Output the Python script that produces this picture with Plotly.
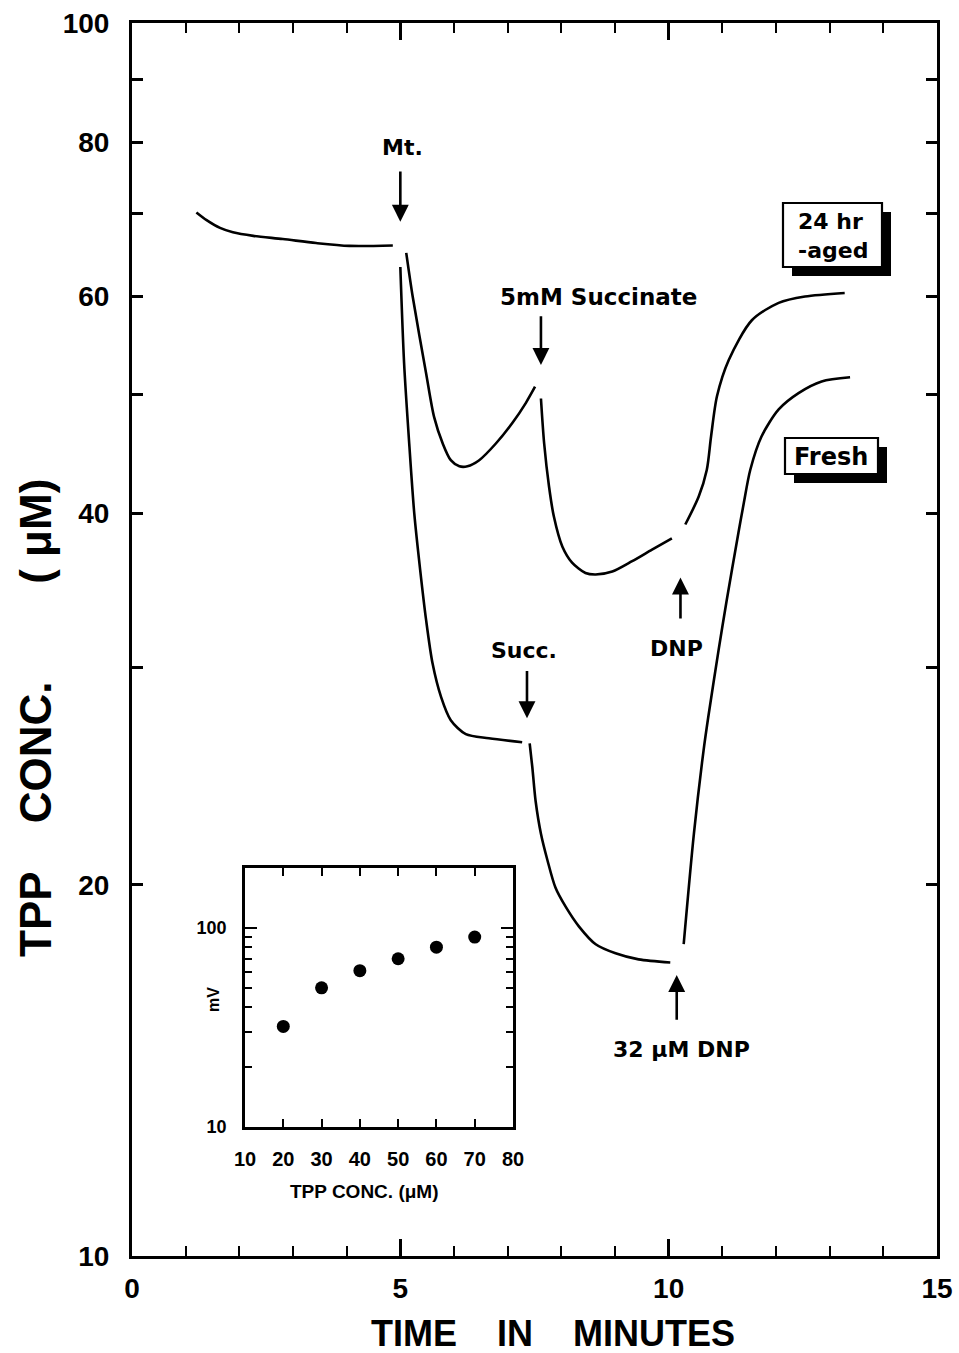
import numpy as np
import plotly.graph_objects as go

W, H = 959, 1353

# ---------------- data ----------------
pre_time = [1.20, 1.39, 1.64, 1.88, 2.26, 2.81, 3.43, 4.05, 4.86]
pre_tpp = [70.2, 69.2, 68.2, 67.65, 67.2, 66.8, 66.3, 65.95, 66.0]

aged_time_1 = [5.11, 5.23, 5.48, 5.63, 5.79, 5.94, 6.10, 6.25, 6.47, 6.78, 7.09, 7.34, 7.51]
aged_tpp_1 = [65.1, 60.0, 52.0, 47.9, 45.6, 44.2, 43.7, 43.7, 44.2, 45.6, 47.4, 49.2, 50.7]
aged_time_2 = [7.62, 7.68, 7.77, 7.86, 8.02, 8.20, 8.45, 8.64, 8.95, 9.32, 9.69, 10.06]
aged_tpp_2 = [49.6, 45.6, 42.1, 39.8, 37.6, 36.5, 35.8, 35.7, 35.9, 36.6, 37.4, 38.2]
aged_time_3 = [10.31, 10.56, 10.71, 10.79, 10.90, 11.12, 11.55, 12.05, 12.54, 13.28]
aged_tpp_3 = [39.2, 41.3, 43.4, 46.2, 49.8, 53.3, 57.4, 59.3, 60.0, 60.4]

fresh_time_1 = [5.00, 5.07, 5.17, 5.26, 5.37, 5.48, 5.60, 5.76, 5.94, 6.22, 6.65, 7.27]
fresh_tpp_1 = [63.4, 53.0, 45.3, 40.0, 36.0, 32.8, 30.25, 28.4, 27.2, 26.5, 26.3, 26.1]
fresh_time_2 = [7.41, 7.46, 7.52, 7.62, 7.74, 7.89, 8.08, 8.33, 8.64, 9.01, 9.44, 10.03]
fresh_tpp_2 = [26.05, 24.9, 23.4, 22.0, 20.95, 19.9, 19.2, 18.5, 17.9, 17.6, 17.4, 17.3]
fresh_time_3 = [10.28, 10.47, 10.65, 10.74, 10.93, 11.08, 11.30, 11.40, 11.52,
                11.73, 12.05, 12.42, 12.85, 13.38]
fresh_tpp_3 = [17.9, 22.0, 25.7, 27.4, 31.0, 34.0, 38.6, 40.8, 43.4,
               46.2, 48.6, 50.1, 51.2, 51.6]

inset_tpp = [20, 30, 40, 50, 60, 70]
inset_mv = [32, 50, 61, 70, 80, 90]

x_ticks = [0, 5, 10, 15]
y_ticks = [10, 20, 40, 60, 80, 100]
y_minor = [30, 50, 70, 90]
inset_x_ticks = [10, 20, 30, 40, 50, 60, 70, 80]
inset_y_ticks = [10, 100]
inset_y_minor = [20, 30, 40, 50, 60, 70, 80, 90]

# ---------------- helpers ----------------
def fx(px):
    return px / W

def fy(py):
    return 1 - py / H

LAB = dict(family="DejaVu Sans", size=22, color="black", weight="bold")
TICKF = dict(family="Liberation Sans", size=28, color="black", weight="bold")

fig = go.Figure()

line_style = dict(color="black", width=2.6, shape="spline", smoothing=0.8)
segments = [
    (pre_time, pre_tpp),
    (aged_time_1, aged_tpp_1), (aged_time_2, aged_tpp_2), (aged_time_3, aged_tpp_3),
    (fresh_time_1, fresh_tpp_1), (fresh_time_2, fresh_tpp_2), (fresh_time_3, fresh_tpp_3),
]
for t, c in segments:
    fig.add_trace(go.Scatter(x=t, y=c, mode="lines", line=line_style,
                             xaxis="x", yaxis="y", showlegend=False, hoverinfo="skip"))

fig.add_trace(go.Scatter(x=inset_tpp, y=inset_mv, mode="markers",
                         marker=dict(color="black", size=13),
                         xaxis="x2", yaxis="y2", showlegend=False, hoverinfo="skip"))

# ---------------- axes ----------------
main_x_dom = [fx(132), fx(937)]
main_y_dom = [fy(1256), fy(23)]
in_x_dom = [fx(245), fx(513)]
in_y_dom = [fy(1127), fy(868)]

fig.update_layout(
    width=W, height=H,
    margin=dict(l=0, r=0, t=0, b=0, pad=0),
    paper_bgcolor="white", plot_bgcolor="white",
    showlegend=False,
    xaxis=dict(domain=main_x_dom, range=[0, 15], tickvals=x_ticks,
               ticks="inside", ticklen=17, tickwidth=2.5, tickcolor="black",
               showline=True, linewidth=3, linecolor="black", mirror="ticks",
               showgrid=False, zeroline=False, tickfont=TICKF,
               ticklabelstandoff=5, anchor="y", automargin=False,
               minor=dict(dtick=1, tick0=0, ticks="inside", ticklen=10,
                          tickwidth=2.2, tickcolor="black", showgrid=False)),
    yaxis=dict(domain=main_y_dom, type="log", range=[1, 2], tickvals=y_ticks,
               ticktext=[str(v) for v in y_ticks],
               ticks="inside", ticklen=11, tickwidth=2.5, tickcolor="black",
               showline=True, linewidth=3, linecolor="black", mirror="ticks",
               showgrid=False, zeroline=False, tickfont=TICKF,
               ticklabelstandoff=14, anchor="x", automargin=False,
               minor=dict(tickvals=y_minor, ticks="inside", ticklen=11,
                          tickwidth=2.5, tickcolor="black", showgrid=False)),
    xaxis2=dict(domain=in_x_dom, range=[10, 80], tickvals=inset_x_ticks,
                ticks="inside", ticklen=8, tickwidth=2, tickcolor="black",
                showline=True, linewidth=2.5, linecolor="black", mirror="ticks",
                showgrid=False, zeroline=False, anchor="y2", automargin=False,
                tickfont=dict(family="Liberation Sans", size=20, color="black", weight="bold"),
                ticklabelstandoff=12),
    yaxis2=dict(domain=in_y_dom, type="log", range=[1, np.log10(200)],
                tickvals=inset_y_ticks, ticktext=["10", "100"],
                ticks="inside", ticklen=12, tickwidth=2, tickcolor="black",
                showline=True, linewidth=2.5, linecolor="black", mirror="ticks",
                showgrid=False, zeroline=False, anchor="x2", automargin=False,
                tickfont=dict(family="Liberation Sans", size=18, color="black", weight="bold"),
                ticklabelstandoff=12,
                minor=dict(tickvals=inset_y_minor, ticks="inside", ticklen=7,
                           tickwidth=2, tickcolor="black", showgrid=False)),
)

L = np.log10
ann = []
# text labels on the main chart (data coords)
for txt, x, y, sz in [("Mt.", 5.04, 79.2, 22), ("5mM Succinate", 8.70, 60.0, 23),
                      ("Succ.", 7.30, 31.0, 22), ("DNP", 10.15, 31.1, 22),
                      ("32 μM DNP", 10.24, 14.7, 22)]:
    ann.append(dict(text=txt, x=x, y=L(y), xref="x", yref="y", showarrow=False,
                    font=dict(LAB, size=sz), xanchor="center", yanchor="middle"))
# arrows (tail -> head)
for x, tail, head in [(5.0, 76.0, 69.0), (7.62, 58.0, 52.8), (7.36, 29.9, 27.3),
                      (10.22, 32.8, 35.5), (10.15, 15.5, 16.9)]:
    ann.append(dict(text="", x=x, y=L(head), ax=x, ay=L(tail), xref="x", yref="y",
                    axref="x", ayref="y", showarrow=True, arrowhead=2,
                    arrowsize=1.3, arrowwidth=2.6, arrowcolor="black", standoff=0))

# boxed labels
shapes = []
def boxed(x0, y0, x1, y1, dx=9, dy=9):
    shapes.append(dict(type="rect", xref="paper", yref="paper",
                       x0=fx(x0 + dx), x1=fx(x1 + dx), y0=fy(y1 + dy), y1=fy(y0 + dy),
                       fillcolor="black", line=dict(width=0)))
    shapes.append(dict(type="rect", xref="paper", yref="paper",
                       x0=fx(x0), x1=fx(x1), y0=fy(y1), y1=fy(y0),
                       fillcolor="white", line=dict(color="black", width=2.2)))

boxed(783, 203, 882, 267)
boxed(785, 438, 878, 474)
ann.append(dict(text="24 hr<br>-aged", x=fx(833), y=fy(236), xref="paper", yref="paper",
                showarrow=False, font=LAB, align="left", xanchor="center", yanchor="middle"))
ann.append(dict(text="Fresh", x=fx(831), y=fy(457), xref="paper", yref="paper",
                showarrow=False, font=dict(LAB, size=24), xanchor="center", yanchor="middle"))

# axis titles
ann.append(dict(text="TIME    IN    MINUTES", x=fx(553), y=fy(1333), xref="paper", yref="paper",
                showarrow=False, xanchor="center", yanchor="middle",
                font=dict(family="Liberation Sans", size=36, color="black", weight="bold")))
ann.append(dict(text="TPP    CONC.        ( μM)", x=fx(35), y=fy(718), xref="paper", yref="paper",
                showarrow=False, xanchor="center", yanchor="middle", textangle=-90,
                font=dict(family="Liberation Sans", size=44, color="black", weight="bold")))
# inset titles
ann.append(dict(text="TPP CONC. (μM)", x=fx(364), y=fy(1191), xref="paper", yref="paper",
                showarrow=False, xanchor="center", yanchor="middle",
                font=dict(family="Liberation Sans", size=19, color="black", weight="bold")))
ann.append(dict(text="mV", x=fx(213), y=fy(1000), xref="paper", yref="paper",
                showarrow=False, xanchor="center", yanchor="middle", textangle=-90,
                font=dict(family="Liberation Sans", size=16, color="black", weight="bold")))

fig.update_layout(annotations=ann, shapes=shapes)
fig.write_html("out.html",
               post_script="document.body.style.margin='0';"
                           "document.documentElement.style.overflow='hidden';")
